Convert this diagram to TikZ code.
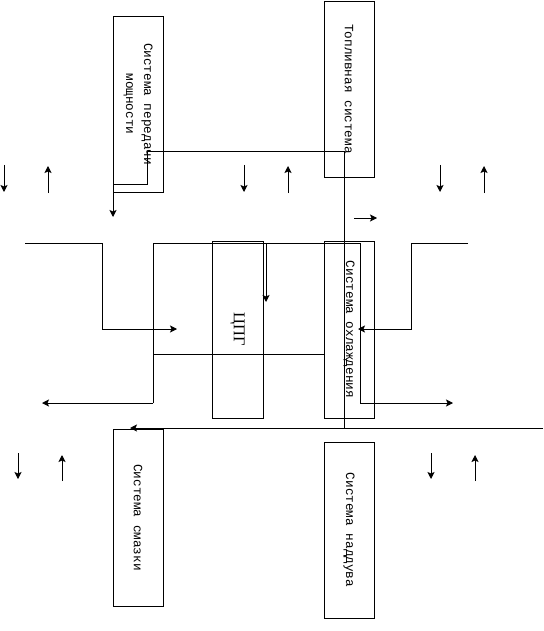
\documentclass[tikz,border=0pt]{standalone}
\usepackage{fontspec}
\newfontfamily\monofont{Liberation Mono}
\newfontfamily\seriffont{Liberation Serif}
\usetikzlibrary{arrows.meta}
\begin{document}
\begin{tikzpicture}[x=1pt,y=-1pt,
  line width=0.9pt,
  sysbox/.style={draw, rotate=-90, inner sep=0pt, minimum height=50pt, align=center,
    font=\monofont\fontsize{12.7}{18}\selectfont},
  arr/.style={-{Stealth[length=7pt,width=7pt,inset=1.5pt]}}]
\useasboundingbox (0,0) rectangle (543,631);
% boxes
\node[sysbox, minimum width=176pt] (pm) at (138,104) {Система передачи\\мощности};
\node[sysbox, minimum width=176pt] (ts) at (349,89) {Топливная система};
\node[sysbox, minimum width=177pt, minimum height=51pt, font=\seriffont\fontsize{16.5}{18}\selectfont] (cpg) at (237.5,329.5) {ЦПГ};
\node[sysbox, minimum width=177pt] (ox) at (349,329.5) {Система охлаждения};
\node[sysbox, minimum width=177pt] (sm) at (138,517.5) {Система смазки};
\node[sysbox, minimum width=176pt] (nd) at (349,530) {Система наддува};
% junction coordinates
\coordinate (j1) at (344,428);
\coordinate (j2) at (344,151);
\coordinate (j3) at (147,151);
\coordinate (j4) at (147,184);
\coordinate (j5) at (113,184);
\coordinate (e1) at (113,217);
\coordinate (r1) at (543,428);
\coordinate (e2) at (130,428);
\coordinate (a1) at (25,243);
\coordinate (a2) at (102,243);
\coordinate (a3) at (102,329);
\coordinate (e3) at (177,329);
\coordinate (e4) at (42,403);
\coordinate (b1) at (153,403);
\coordinate (b2) at (153,243);
\coordinate (b3) at (360,243);
\coordinate (b4) at (360,403);
\coordinate (e5) at (453,403);
\coordinate (c1) at (153,354);
\coordinate (c2) at (324,354);
\coordinate (d1) at (266,243);
\coordinate (e6) at (266,302);
\coordinate (f1) at (468,243);
\coordinate (f2) at (411,243);
\coordinate (f3) at (411,329);
\coordinate (e7) at (358,329);
% connectors
\draw[arr] (j1) -- (j2) -- (j3) -- (j4) -- (j5) -- (e1);
\draw[arr] (r1) -- (e2);
\draw[arr] (a1) -- (a2) -- (a3) -- (e3);
\draw[arr] (b1) -- (e4);
\draw[arr] (b1) -- (b2) -- (b3) -- (b4) -- (e5);
\draw (c1) -- (c2);
\draw[arr] (d1) -- (e6);
\draw[arr] (f1) -- (f2) -- (f3) -- (e7);
% short arrows
\foreach \x/\n in {4/s1,244/s2,440/s3}{
  \coordinate (\n a) at (\x,165); \coordinate (\n b) at (\x,192);
  \draw[arr] (\n a) -- (\n b);}
\foreach \x/\n in {48/u1,288/u2,484/u3}{
  \coordinate (\n a) at (\x,193); \coordinate (\n b) at (\x,166);
  \draw[arr] (\n a) -- (\n b);}
\foreach \x/\n in {18/s4,431/s5}{
  \coordinate (\n a) at (\x,453); \coordinate (\n b) at (\x,479);
  \draw[arr] (\n a) -- (\n b);}
\foreach \x/\n in {62/u4,475/u5}{
  \coordinate (\n a) at (\x,481); \coordinate (\n b) at (\x,455);
  \draw[arr] (\n a) -- (\n b);}
\coordinate (h1) at (354,218);
\coordinate (h2) at (377,218);
\draw[arr] (h1) -- (h2);
\end{tikzpicture}
\end{document}
